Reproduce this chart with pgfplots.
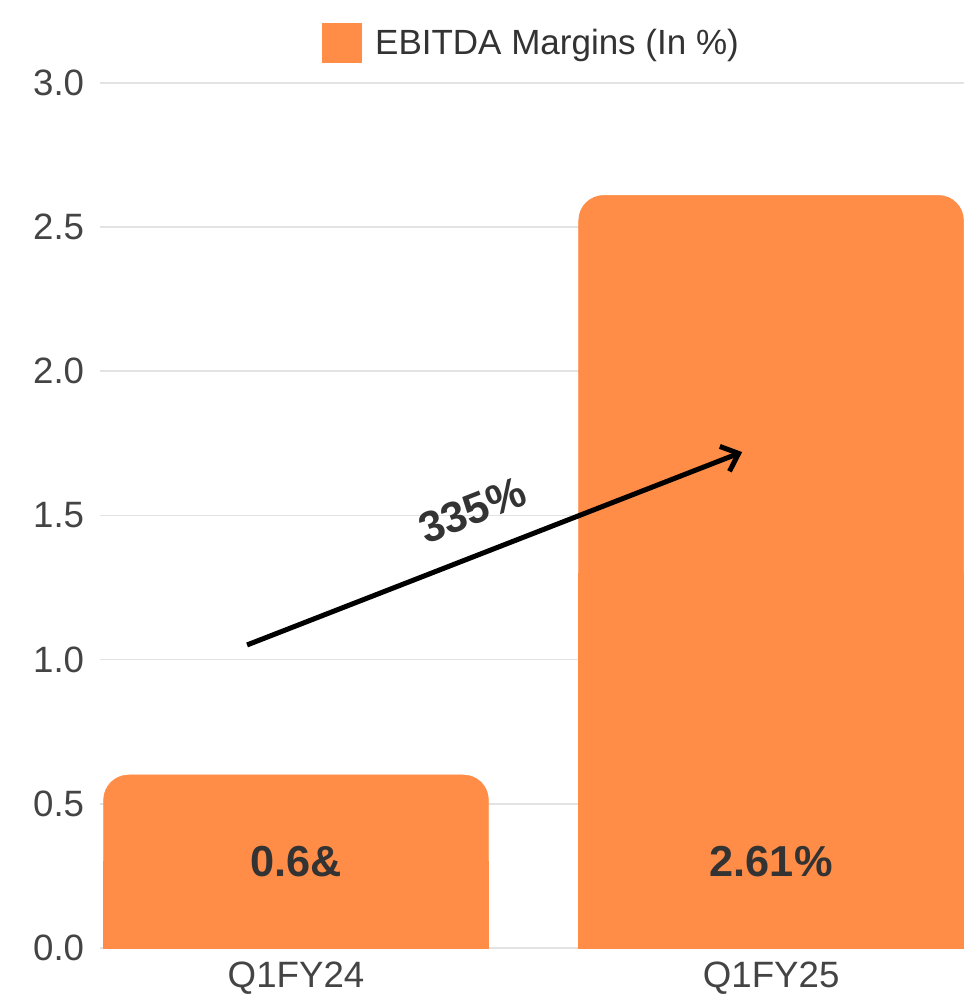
\documentclass[border=0pt]{standalone}
\usepackage{pgfplots}
\pgfplotsset{compat=1.18}
\usepackage{fontspec}
\setmainfont{Liberation Sans}
\usetikzlibrary{calc,arrows.meta}
\definecolor{barC}{HTML}{FF8C47}
\definecolor{txt}{HTML}{333333}
\definecolor{tickC}{HTML}{444444}
\definecolor{gridC}{HTML}{E3E3E3}
\begin{document}
\begin{tikzpicture}
\begin{axis}[name=ax, scale only axis, width=518.4pt, height=519pt,
  xmin=-0.4126, xmax=1.406, ymin=0, ymax=3,
  xtick={0,1}, xticklabels={Q1FY24,Q1FY25},
  ytick={0,0.5,...,3},
  y tick label style={/pgf/number format/fixed, /pgf/number format/fixed zerofill, /pgf/number format/precision=1, /pgf/number format/assume math mode=true, xshift=-6pt},
  x tick label style={yshift=-5pt},
  tick label style={font=\fontsize{22}{24}\selectfont, text=tickC},
  major tick length=0pt,
  axis line style={draw=none},
  ymajorgrids, grid style={gridC, line width=1pt},
  clip=false,
  legend style={draw=none, at={(0.5,1.046)}, anchor=center, font=\fontsize{21}{24}\selectfont, text=txt},
  legend image code/.code={\fill[barC, sharp corners, draw=none] (0pt,-12pt) rectangle (24pt,12pt); \path[draw=none, fill=none] (0pt,0pt) rectangle (30pt,0.1pt);},
]
\addplot[ybar, bar shift=0pt, bar width=0.81, fill=barC, draw=barC, line width=0.3pt, rounded corners=15pt] coordinates {(0,0.6) (1,2.61)};
\addlegendentry{EBITDA Margins (In \%)}
\addplot[ybar, bar shift=0pt, bar width=0.81, fill=barC, draw=barC, line width=0.3pt, forget plot] coordinates {(0,0.3) (1,1.3)};
\draw[line width=3pt, -{Straight Barb[length=9pt,width=16pt]}] (axis cs:-0.103,1.051) -- (axis cs:0.939,1.720);
\node[rotate=21.3, font=\bfseries\fontsize{26}{28}\selectfont, text=txt] at (axis cs:0.371,1.519) {335\%};
\node[font=\bfseries\fontsize{26}{28}\selectfont, text=txt] at (axis cs:0,0.3) {0.6\&};
\node[font=\bfseries\fontsize{26}{28}\selectfont, text=txt] at (axis cs:1,0.3) {2.61\%};
\end{axis}
\path ($(ax.south west)+(-60pt,-31.8pt)$) rectangle ($(ax.north east)+(0pt,49.8pt)$);
\end{tikzpicture}
\end{document}
